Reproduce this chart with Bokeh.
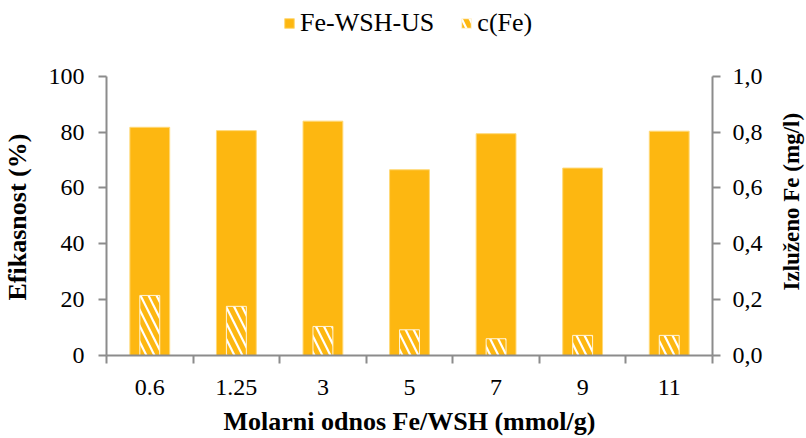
from bokeh.plotting import figure
from bokeh.layouts import row
from bokeh.models import (ColumnDataSource, Range1d, LinearAxis, FixedTicker,
                          CustomJSTickFormatter, Legend, LegendItem, Title)
from bokeh.embed import file_html
from bokeh.resources import INLINE

# Molar ratio Fe/WSH (mmol/g)
categories = ["0.6", "1.25", "3", "5", "7", "9", "11"]
# Removal efficiency of Fe-WSH-US (%)
efficiency = [81.7, 80.5, 83.9, 66.5, 79.4, 67.1, 80.3]
# Leached iron c(Fe) (mg/l)
leached_fe = [0.215, 0.176, 0.104, 0.092, 0.060, 0.072, 0.072]

FONT = "Liberation Serif"
AXIS_GRAY = "#8c8c8c"
ORANGE = "#FDB711"
TITLE_SIZE = "26px"
TICK_SIZE = "24px"

centers = [i + 0.5 for i in range(len(categories))]
bounds = list(range(len(categories) + 1))

src = ColumnDataSource(dict(x=centers, eff=efficiency, fe=leached_fe))

# The plotting frame reaches up to the top so the legend can sit inside it;
# the y axes are bounded to 0-100 % and 0-1 mg/l.
TOP_PCT = 125.3
p = figure(width=736, height=438, output_backend="svg", toolbar_location=None,
           x_range=Range1d(0, len(categories)), y_range=Range1d(0, TOP_PCT),
           x_axis_type=None, y_axis_type=None,
           min_border_left=66, min_border_right=64,
           min_border_top=5, min_border_bottom=83)
p.outline_line_color = None
p.grid.visible = False
p.background_fill_color = "white"
p.border_fill_color = "white"

p.extra_y_ranges = {"fe": Range1d(0, TOP_PCT / 100)}

bars = p.vbar(x="x", top="eff", width=0.46, source=src,
              fill_color=ORANGE, line_color="#FFD978", line_width=1)
hatched = p.vbar(x="x", top="fe", width=0.23, source=src, y_range_name="fe",
                 fill_color="white", line_color="#FFF3D6", line_width=1,
                 hatch_pattern="left_diagonal_line", hatch_color=ORANGE,
                 hatch_scale=16, hatch_weight=5)

# Category axis: labels at bar centers, tick marks between categories
xaxis = LinearAxis(ticker=FixedTicker(ticks=centers, minor_ticks=bounds),
                   major_label_overrides={c: lab for c, lab in zip(centers, categories)})
xaxis.axis_label = "Molarni odnos Fe/WSH (mmol/g)"
xaxis.major_tick_out = 0
xaxis.major_tick_in = 0
xaxis.minor_tick_out = 8
xaxis.minor_tick_in = 0
p.add_layout(xaxis, "below")

ly = LinearAxis(ticker=FixedTicker(ticks=[0, 20, 40, 60, 80, 100]), bounds=(0, 100))
ly.major_tick_out = 8
ly.major_tick_in = 0
p.add_layout(ly, "left")

ry = LinearAxis(y_range_name="fe", bounds=(0, 1.0),
                ticker=FixedTicker(ticks=[0, 0.2, 0.4, 0.6, 0.8, 1.0]),
                formatter=CustomJSTickFormatter(code="return tick.toFixed(1).replace('.', ',');"))
ry.major_tick_out = 8
ry.major_tick_in = 0
p.add_layout(ry, "right")

for ax in (xaxis, ly, ry):
    ax.axis_line_color = AXIS_GRAY
    ax.axis_line_width = 2
    ax.major_tick_line_color = AXIS_GRAY
    ax.major_tick_line_width = 2
    ax.minor_tick_line_color = AXIS_GRAY if ax is xaxis else None
    ax.minor_tick_line_width = 2
    ax.major_label_text_font = FONT
    ax.major_label_text_font_size = TICK_SIZE
    ax.major_label_text_color = "black"
    ax.axis_label_text_font = FONT
    ax.axis_label_text_font_size = TITLE_SIZE
    ax.axis_label_text_font_style = "bold"
    ax.axis_label_text_color = "black"

xaxis.major_label_standoff = 16
xaxis.axis_label_standoff = 9
ly.major_label_standoff = 14
ry.major_label_standoff = 12

legend = Legend(items=[LegendItem(label="Fe-WSH-US", renderers=[bars]),
                       LegendItem(label="c(Fe)", renderers=[hatched])],
                orientation="horizontal", location=(177, 317),
                background_fill_alpha=0, border_line_color=None,
                label_text_font=FONT, label_text_font_size="26px",
                label_text_color="black",
                glyph_width=12, glyph_height=12, spacing=26,
                label_standoff=5, padding=0, margin=0)
p.add_layout(legend, "center")


def title_strip(text, width, size, lift):
    """Narrow figure whose left title reads bottom-to-top, starting `lift` px
    above the bottom of the (row-aligned) frame."""
    s = figure(width=width, height=438, output_backend="svg", toolbar_location=None,
               x_axis_type=None, y_axis_type=None,
               min_border_left=0, min_border_right=0,
               min_border_top=5, min_border_bottom=83)
    s.outline_line_color = None
    s.grid.visible = False
    s.border_fill_color = "white"
    s.add_layout(Title(text=text, align="left", standoff=0, offset=lift,
                       text_font=FONT, text_font_size=size,
                       text_font_style="bold", text_color="black"), "left")
    return s


left_title = title_strip("Efikasnost (%)", 40, TITLE_SIZE, 55)
right_title = title_strip("Izluženo Fe (mg/l)", 30, "23px", 65)

layout = row(left_title, p, right_title, spacing=0)
open("out.html", "w").write(file_html(layout, INLINE))
